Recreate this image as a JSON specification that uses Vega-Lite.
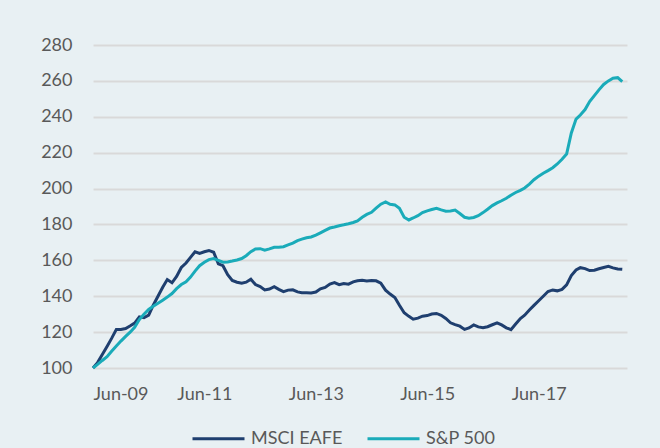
{
  "$schema": "https://vega.github.io/schema/vega-lite/v6.json",
  "width": 534,
  "height": 323,
  "autosize": "none",
  "padding": {"left": 93, "top": 45, "right": 33, "bottom": 80},
  "background": "#e8f0f3",
  "config": {"view": {"stroke": null}, "font": "Lato"},
  "data": {"values": [
    {"d":"2009-06-01","MSCI EAFE":100,"S&P 500":100},
    {"d":"2009-07-01","MSCI EAFE":103,"S&P 500":102},
    {"d":"2009-08-01","MSCI EAFE":107.5,"S&P 500":104.2},
    {"d":"2009-09-01","MSCI EAFE":112,"S&P 500":106.3},
    {"d":"2009-10-01","MSCI EAFE":116.5,"S&P 500":109.3},
    {"d":"2009-11-01","MSCI EAFE":121.5,"S&P 500":112.3},
    {"d":"2009-12-01","MSCI EAFE":121.5,"S&P 500":115},
    {"d":"2010-01-01","MSCI EAFE":122,"S&P 500":117.6},
    {"d":"2010-02-01","MSCI EAFE":123.5,"S&P 500":120.1},
    {"d":"2010-03-01","MSCI EAFE":125,"S&P 500":122.7},
    {"d":"2010-04-01","MSCI EAFE":128.5,"S&P 500":127},
    {"d":"2010-05-01","MSCI EAFE":128,"S&P 500":130},
    {"d":"2010-06-01","MSCI EAFE":129.5,"S&P 500":132.6},
    {"d":"2010-07-01","MSCI EAFE":135,"S&P 500":134.4},
    {"d":"2010-08-01","MSCI EAFE":140,"S&P 500":136.1},
    {"d":"2010-09-01","MSCI EAFE":145,"S&P 500":137.8},
    {"d":"2010-10-01","MSCI EAFE":149.3,"S&P 500":139.5},
    {"d":"2010-11-01","MSCI EAFE":147.5,"S&P 500":141.5},
    {"d":"2010-12-01","MSCI EAFE":151,"S&P 500":144.2},
    {"d":"2011-01-01","MSCI EAFE":156,"S&P 500":146.5},
    {"d":"2011-02-01","MSCI EAFE":158.5,"S&P 500":148},
    {"d":"2011-03-01","MSCI EAFE":161.5,"S&P 500":150.5},
    {"d":"2011-04-01","MSCI EAFE":164.8,"S&P 500":154},
    {"d":"2011-05-01","MSCI EAFE":163.9,"S&P 500":157},
    {"d":"2011-06-01","MSCI EAFE":164.8,"S&P 500":158.9},
    {"d":"2011-07-01","MSCI EAFE":165.5,"S&P 500":160.4},
    {"d":"2011-08-01","MSCI EAFE":164.5,"S&P 500":161},
    {"d":"2011-09-01","MSCI EAFE":158,"S&P 500":160},
    {"d":"2011-10-01","MSCI EAFE":157,"S&P 500":159},
    {"d":"2011-11-01","MSCI EAFE":152,"S&P 500":159.1},
    {"d":"2011-12-01","MSCI EAFE":148.8,"S&P 500":159.6},
    {"d":"2012-01-01","MSCI EAFE":147.8,"S&P 500":160.2},
    {"d":"2012-02-01","MSCI EAFE":147.2,"S&P 500":161},
    {"d":"2012-03-01","MSCI EAFE":147.8,"S&P 500":162.6},
    {"d":"2012-04-01","MSCI EAFE":149.5,"S&P 500":164.8},
    {"d":"2012-05-01","MSCI EAFE":146.5,"S&P 500":166.3},
    {"d":"2012-06-01","MSCI EAFE":145.4,"S&P 500":166.5},
    {"d":"2012-07-01","MSCI EAFE":143.5,"S&P 500":165.6},
    {"d":"2012-08-01","MSCI EAFE":144,"S&P 500":166.4},
    {"d":"2012-09-01","MSCI EAFE":145.3,"S&P 500":167.3},
    {"d":"2012-10-01","MSCI EAFE":143.8,"S&P 500":167.3},
    {"d":"2012-11-01","MSCI EAFE":142.6,"S&P 500":167.6},
    {"d":"2012-12-01","MSCI EAFE":143.4,"S&P 500":168.6},
    {"d":"2013-01-01","MSCI EAFE":143.6,"S&P 500":169.6},
    {"d":"2013-02-01","MSCI EAFE":142.4,"S&P 500":171},
    {"d":"2013-03-01","MSCI EAFE":142,"S&P 500":171.8},
    {"d":"2013-04-01","MSCI EAFE":142,"S&P 500":172.6},
    {"d":"2013-05-01","MSCI EAFE":141.8,"S&P 500":173},
    {"d":"2013-06-01","MSCI EAFE":142.3,"S&P 500":174},
    {"d":"2013-07-01","MSCI EAFE":144.1,"S&P 500":175.3},
    {"d":"2013-08-01","MSCI EAFE":144.9,"S&P 500":176.7},
    {"d":"2013-09-01","MSCI EAFE":146.8,"S&P 500":178},
    {"d":"2013-10-01","MSCI EAFE":147.6,"S&P 500":178.6},
    {"d":"2013-11-01","MSCI EAFE":146.4,"S&P 500":179.3},
    {"d":"2013-12-01","MSCI EAFE":147.1,"S&P 500":179.8},
    {"d":"2014-01-01","MSCI EAFE":146.7,"S&P 500":180.4},
    {"d":"2014-02-01","MSCI EAFE":148,"S&P 500":181.1},
    {"d":"2014-03-01","MSCI EAFE":148.6,"S&P 500":182},
    {"d":"2014-04-01","MSCI EAFE":148.9,"S&P 500":184},
    {"d":"2014-05-01","MSCI EAFE":148.5,"S&P 500":185.6},
    {"d":"2014-06-01","MSCI EAFE":148.8,"S&P 500":186.8},
    {"d":"2014-07-01","MSCI EAFE":148.6,"S&P 500":189.1},
    {"d":"2014-08-01","MSCI EAFE":147.3,"S&P 500":191.3},
    {"d":"2014-09-01","MSCI EAFE":143.4,"S&P 500":192.6},
    {"d":"2014-10-01","MSCI EAFE":141.2,"S&P 500":191.2},
    {"d":"2014-11-01","MSCI EAFE":139.3,"S&P 500":190.9},
    {"d":"2014-12-01","MSCI EAFE":135,"S&P 500":189},
    {"d":"2015-01-01","MSCI EAFE":130.8,"S&P 500":184},
    {"d":"2015-02-01","MSCI EAFE":128.8,"S&P 500":182.5},
    {"d":"2015-03-01","MSCI EAFE":127.2,"S&P 500":183.6},
    {"d":"2015-04-01","MSCI EAFE":127.8,"S&P 500":184.9},
    {"d":"2015-05-01","MSCI EAFE":128.9,"S&P 500":186.6},
    {"d":"2015-06-01","MSCI EAFE":129.2,"S&P 500":187.6},
    {"d":"2015-07-01","MSCI EAFE":130.1,"S&P 500":188.3},
    {"d":"2015-08-01","MSCI EAFE":130.4,"S&P 500":189},
    {"d":"2015-09-01","MSCI EAFE":129.4,"S&P 500":188.1},
    {"d":"2015-10-01","MSCI EAFE":127.6,"S&P 500":187.4},
    {"d":"2015-11-01","MSCI EAFE":125.2,"S&P 500":187.5},
    {"d":"2015-12-01","MSCI EAFE":124.2,"S&P 500":188},
    {"d":"2016-01-01","MSCI EAFE":123.3,"S&P 500":186.1},
    {"d":"2016-02-01","MSCI EAFE":121.5,"S&P 500":184},
    {"d":"2016-03-01","MSCI EAFE":122.3,"S&P 500":183.5},
    {"d":"2016-04-01","MSCI EAFE":124,"S&P 500":183.9},
    {"d":"2016-05-01","MSCI EAFE":122.9,"S&P 500":184.9},
    {"d":"2016-06-01","MSCI EAFE":122.4,"S&P 500":186.6},
    {"d":"2016-07-01","MSCI EAFE":123,"S&P 500":188.5},
    {"d":"2016-08-01","MSCI EAFE":124.1,"S&P 500":190.5},
    {"d":"2016-09-01","MSCI EAFE":125.2,"S&P 500":192},
    {"d":"2016-10-01","MSCI EAFE":124,"S&P 500":193.2},
    {"d":"2016-11-01","MSCI EAFE":122.4,"S&P 500":194.6},
    {"d":"2016-12-01","MSCI EAFE":121.4,"S&P 500":196.3},
    {"d":"2017-01-01","MSCI EAFE":124.5,"S&P 500":197.8},
    {"d":"2017-02-01","MSCI EAFE":127.6,"S&P 500":199},
    {"d":"2017-03-01","MSCI EAFE":129.4,"S&P 500":200.3},
    {"d":"2017-04-01","MSCI EAFE":132.3,"S&P 500":202.5},
    {"d":"2017-05-01","MSCI EAFE":134.9,"S&P 500":204.9},
    {"d":"2017-06-01","MSCI EAFE":137.5,"S&P 500":206.9},
    {"d":"2017-07-01","MSCI EAFE":140,"S&P 500":208.5},
    {"d":"2017-08-01","MSCI EAFE":142.6,"S&P 500":210},
    {"d":"2017-09-01","MSCI EAFE":143.5,"S&P 500":211.6},
    {"d":"2017-10-01","MSCI EAFE":143,"S&P 500":213.7},
    {"d":"2017-11-01","MSCI EAFE":143.8,"S&P 500":216.3},
    {"d":"2017-12-01","MSCI EAFE":146.3,"S&P 500":219.2},
    {"d":"2018-01-01","MSCI EAFE":151.5,"S&P 500":231},
    {"d":"2018-02-01","MSCI EAFE":154.6,"S&P 500":238.7},
    {"d":"2018-03-01","MSCI EAFE":155.9,"S&P 500":241},
    {"d":"2018-04-01","MSCI EAFE":155.4,"S&P 500":244},
    {"d":"2018-05-01","MSCI EAFE":154.3,"S&P 500":248.5},
    {"d":"2018-06-01","MSCI EAFE":154.5,"S&P 500":251.8},
    {"d":"2018-07-01","MSCI EAFE":155.3,"S&P 500":255},
    {"d":"2018-08-01","MSCI EAFE":156,"S&P 500":258},
    {"d":"2018-09-01","MSCI EAFE":156.7,"S&P 500":260},
    {"d":"2018-10-01","MSCI EAFE":155.8,"S&P 500":261.5},
    {"d":"2018-11-01","MSCI EAFE":155.2,"S&P 500":261.8},
    {"d":"2018-12-01","MSCI EAFE":155,"S&P 500":259.6}
  ]},
  "transform": [{"fold": ["MSCI EAFE", "S&P 500"], "as": ["series", "value"]}],
  "mark": {"type": "line", "strokeWidth": 3, "clip": false},
  "encoding": {
    "x": {
      "field": "d",
      "type": "temporal",
      "scale": {"type": "utc", "domain": [{"year": 2009, "month": "jun", "date": 1, "utc": true}, {"year": 2019, "month": "jan", "date": 1, "utc": true}]},
      "axis": {
        "title": null,
        "format": "%b-%y",
        "values": [
          {"year": 2009, "month": "jun", "date": 1, "utc": true},
          {"year": 2011, "month": "jun", "date": 1, "utc": true},
          {"year": 2013, "month": "jun", "date": 1, "utc": true},
          {"year": 2015, "month": "jun", "date": 1, "utc": true},
          {"year": 2017, "month": "jun", "date": 1, "utc": true}
        ],
        "grid": false,
        "domain": false,
        "ticks": false,
        "labelFont": "Lato",
        "labelFontSize": 18,
        "labelColor": "#595959",
        "labelPadding": 17
      }
    },
    "y": {
      "field": "value",
      "type": "quantitative",
      "scale": {"domain": [100, 280], "nice": false, "zero": false},
      "axis": {
        "title": null,
        "values": [100, 120, 140, 160, 180, 200, 220, 240, 260, 280],
        "domain": false,
        "ticks": false,
        "grid": true,
        "gridColor": "#d9d9d9",
        "gridWidth": 2,
        "labelFont": "Lato",
        "labelFontSize": 18,
        "labelColor": "#595959",
        "labelPadding": 21
      }
    },
    "color": {
      "field": "series",
      "type": "nominal",
      "scale": {"domain": ["MSCI EAFE", "S&P 500"], "range": ["#1f3f6f", "#1aabb9"]},
      "legend": {
        "title": null,
        "orient": "none",
        "direction": "horizontal",
        "legendX": 98,
        "legendY": 366,
        "symbolType": "stroke",
        "symbolSize": 2704,
        "symbolStrokeWidth": 3,
        "labelFont": "Lato",
        "labelFontSize": 18,
        "labelColor": "#595959",
        "labelOffset": 5,
        "columnPadding": 18,
        "padding": 0
      }
    }
  }
}
